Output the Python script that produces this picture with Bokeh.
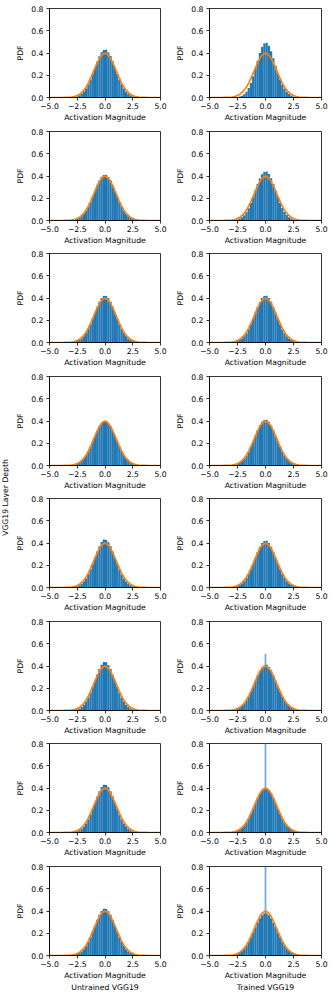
import math
from bokeh.plotting import figure
from bokeh.layouts import row, column
from bokeh.models import Range1d, LinearAxis, FixedTicker, Label, CustomJSTickFormatter
from bokeh.embed import file_html
from bokeh.resources import INLINE

# ---------------- data ----------------
X_TICKS = [-5, -2.5, 0, 2.5, 5]
X_TICK_LABELS = ["\u22125.0", "\u22122.5", "0.0", "2.5", "5.0"]
Y_TICKS = [0, 0.2, 0.4, 0.6, 0.8]
Y_TICK_LABELS = ["0.0", "0.2", "0.4", "0.6", "0.8"]

BIN_WIDTH = 0.2
BIN_CENTERS = [-2.9, -2.7, -2.5, -2.3, -2.1, -1.9, -1.7, -1.5, -1.3, -1.1, -0.9, -0.7, -0.5, -0.3, -0.1,
               0.1, 0.3, 0.5, 0.7, 0.9, 1.1, 1.3, 1.5, 1.7, 1.9, 2.1, 2.3, 2.5, 2.7, 2.9]

untrained_1 = [0.003, 0.006, 0.012, 0.020, 0.034, 0.053, 0.081, 0.117, 0.161, 0.213, 0.268, 0.322, 0.370, 0.407, 0.428,
               0.430, 0.405, 0.372, 0.324, 0.270, 0.212, 0.160, 0.116, 0.080, 0.052, 0.033, 0.020, 0.011, 0.006, 0.003]
untrained_2 = [0.004, 0.008, 0.015, 0.024, 0.039, 0.060, 0.088, 0.124, 0.167, 0.216, 0.267, 0.318, 0.360, 0.393, 0.410,
               0.412, 0.392, 0.361, 0.317, 0.268, 0.215, 0.166, 0.125, 0.088, 0.059, 0.039, 0.024, 0.015, 0.008, 0.004]
untrained_3 = [0.004, 0.007, 0.013, 0.022, 0.036, 0.057, 0.085, 0.121, 0.164, 0.215, 0.268, 0.320, 0.366, 0.400, 0.418,
               0.419, 0.399, 0.367, 0.319, 0.269, 0.214, 0.164, 0.120, 0.085, 0.056, 0.036, 0.022, 0.013, 0.007, 0.004]
untrained_4 = [0.006, 0.010, 0.018, 0.028, 0.044, 0.066, 0.094, 0.130, 0.171, 0.218, 0.266, 0.312, 0.352, 0.381, 0.397,
               0.398, 0.380, 0.353, 0.311, 0.267, 0.217, 0.172, 0.129, 0.095, 0.065, 0.044, 0.028, 0.017, 0.010, 0.006]
untrained_5 = [0.003, 0.006, 0.011, 0.020, 0.033, 0.053, 0.082, 0.118, 0.162, 0.212, 0.269, 0.323, 0.371, 0.408, 0.431,
               0.427, 0.406, 0.370, 0.323, 0.268, 0.213, 0.161, 0.117, 0.081, 0.053, 0.034, 0.020, 0.012, 0.006, 0.003]
untrained_6 = [0.003, 0.006, 0.011, 0.019, 0.032, 0.052, 0.080, 0.116, 0.160, 0.212, 0.269, 0.324, 0.373, 0.412, 0.436,
               0.433, 0.410, 0.372, 0.322, 0.268, 0.211, 0.159, 0.115, 0.080, 0.052, 0.033, 0.019, 0.011, 0.006, 0.003]
untrained_7 = [0.003, 0.006, 0.012, 0.020, 0.033, 0.053, 0.081, 0.117, 0.161, 0.213, 0.268, 0.322, 0.371, 0.409, 0.429,
               0.428, 0.407, 0.371, 0.323, 0.269, 0.213, 0.160, 0.117, 0.081, 0.053, 0.033, 0.020, 0.012, 0.006, 0.003]
untrained_8 = [0.004, 0.007, 0.013, 0.022, 0.036, 0.056, 0.084, 0.120, 0.164, 0.215, 0.268, 0.321, 0.366, 0.401, 0.420,
               0.417, 0.398, 0.366, 0.320, 0.268, 0.215, 0.165, 0.121, 0.085, 0.057, 0.036, 0.022, 0.013, 0.007, 0.004]

trained_1 = [0.001, 0.002, 0.004, 0.008, 0.016, 0.030, 0.052, 0.085, 0.130, 0.190, 0.260, 0.330, 0.400, 0.455, 0.485,
             0.492, 0.465, 0.415, 0.352, 0.285, 0.218, 0.162, 0.115, 0.078, 0.050, 0.031, 0.018, 0.010, 0.005, 0.003]
trained_2 = [0.002, 0.005, 0.009, 0.017, 0.029, 0.048, 0.075, 0.111, 0.157, 0.211, 0.269, 0.327, 0.378, 0.416, 0.437,
             0.440, 0.417, 0.379, 0.328, 0.270, 0.211, 0.157, 0.112, 0.076, 0.049, 0.029, 0.017, 0.009, 0.005, 0.002]
trained_3 = [0.004, 0.007, 0.013, 0.022, 0.036, 0.056, 0.084, 0.120, 0.165, 0.216, 0.269, 0.320, 0.365, 0.400, 0.417,
             0.420, 0.401, 0.367, 0.320, 0.268, 0.214, 0.164, 0.120, 0.084, 0.056, 0.036, 0.022, 0.013, 0.007, 0.004]
trained_4 = [0.004, 0.008, 0.014, 0.024, 0.039, 0.059, 0.088, 0.124, 0.168, 0.217, 0.268, 0.318, 0.361, 0.393, 0.409,
             0.411, 0.393, 0.360, 0.318, 0.267, 0.216, 0.167, 0.124, 0.088, 0.060, 0.039, 0.024, 0.014, 0.008, 0.004]
trained_5 = [0.004, 0.007, 0.013, 0.022, 0.036, 0.056, 0.085, 0.121, 0.165, 0.215, 0.268, 0.320, 0.366, 0.401, 0.419,
             0.421, 0.400, 0.366, 0.319, 0.268, 0.215, 0.165, 0.121, 0.085, 0.056, 0.036, 0.022, 0.013, 0.007, 0.004]
trained_6 = [0.005, 0.009, 0.016, 0.026, 0.041, 0.062, 0.090, 0.126, 0.169, 0.217, 0.267, 0.316, 0.357, 0.389, 0.405,
             0.412, 0.392, 0.360, 0.317, 0.268, 0.217, 0.168, 0.125, 0.090, 0.061, 0.040, 0.025, 0.015, 0.009, 0.005]
trained_7 = [0.005, 0.009, 0.016, 0.027, 0.042, 0.063, 0.091, 0.126, 0.168, 0.214, 0.262, 0.309, 0.349, 0.380, 0.400,
             0.398, 0.378, 0.350, 0.310, 0.263, 0.214, 0.167, 0.126, 0.091, 0.063, 0.042, 0.027, 0.016, 0.009, 0.005]
trained_8 = [0.005, 0.009, 0.016, 0.026, 0.041, 0.061, 0.089, 0.123, 0.163, 0.207, 0.253, 0.296, 0.334, 0.362, 0.377,
             0.377, 0.362, 0.334, 0.296, 0.253, 0.207, 0.163, 0.123, 0.089, 0.061, 0.041, 0.026, 0.016, 0.009, 0.005]

# spike of exact-zero activations (trained layers 6-8), height in density units
SPIKE_WIDTH = 0.16
trained_spikes = [0, 0, 0, 0, 0, 0.51, 1.5, 1.8]

# reference normal curve
NORMAL_X = [-5.0, -4.75, -4.5, -4.25, -4.0, -3.75, -3.5, -3.25, -3.0, -2.75, -2.5, -2.25, -2.0, -1.75, -1.5, -1.25,
            -1.0, -0.75, -0.5, -0.25, 0.0, 0.25, 0.5, 0.75, 1.0, 1.25, 1.5, 1.75, 2.0, 2.25, 2.5, 2.75, 3.0, 3.25,
            3.5, 3.75, 4.0, 4.25, 4.5, 4.75, 5.0]
NORMAL_PDF = [0.0, 0.0, 0.0, 0.0, 0.0001, 0.0004, 0.0009, 0.0020, 0.0044, 0.0091, 0.0175, 0.0317, 0.0540, 0.0863,
              0.1295, 0.1826, 0.2420, 0.3011, 0.3521, 0.3867, 0.3989, 0.3867, 0.3521, 0.3011, 0.2420, 0.1826, 0.1295,
              0.0863, 0.0540, 0.0317, 0.0175, 0.0091, 0.0044, 0.0020, 0.0009, 0.0004, 0.0001, 0.0, 0.0, 0.0, 0.0]

untrained = [untrained_1, untrained_2, untrained_3, untrained_4, untrained_5, untrained_6, untrained_7, untrained_8]
trained = [trained_1, trained_2, trained_3, trained_4, trained_5, trained_6, trained_7, trained_8]

X_LABEL = "Activation Magnitude"
Y_LABEL = "PDF"
COL_TITLES = ["Untrained VGG19", "Trained VGG19"]
ROW_LABEL = "VGG19 Layer Depth"

# ---------------- styling / layout ----------------
FONT = "DejaVu Sans"
FS = "7.7px"
BLUE = "#1f77b4"
ORANGE = "#ff7f0e"
ROW_HEIGHTS = [128, 122, 123, 122, 123, 122, 123, 135]
TOP_BORDERS = [8, 3, 3, 3, 3, 3, 3, 3]
FRAME_H = 89
LABEL_W = 9
TOTAL_H = sum(ROW_HEIGHTS)
# (width, border_left, border_right) per column
COL_GEOM = [(160, 40, 9), (163, 40, 11)]

LOOKUP = "const i = tick_values.indexOf(tick); return i >= 0 ? tick_labels[i] : '';"
fmt_x = CustomJSTickFormatter(args=dict(tick_values=X_TICKS, tick_labels=X_TICK_LABELS), code=LOOKUP)
fmt_y = CustomJSTickFormatter(args=dict(tick_values=Y_TICKS, tick_labels=Y_TICK_LABELS), code=LOOKUP)


def style_axis(ax, standoff, label_standoff):
    ax.major_label_text_font = FONT
    ax.major_label_text_font_size = FS
    ax.major_label_text_color = "black"
    ax.axis_label_text_font = FONT
    ax.axis_label_text_font_size = FS
    ax.axis_label_text_font_style = "normal"
    ax.axis_label_text_color = "black"
    ax.axis_line_color = "black"
    ax.axis_line_width = 0.8
    ax.major_tick_line_color = "black"
    ax.major_tick_line_width = 0.8
    ax.major_tick_out = 3
    ax.major_tick_in = 0
    ax.minor_tick_line_color = None
    ax.major_label_standoff = standoff
    ax.axis_label_standoff = label_standoff


def make_panel(heights, spike, col, r):
    h = ROW_HEIGHTS[r]
    tb = TOP_BORDERS[r]
    w, bl, br = COL_GEOM[col]
    p = figure(width=w, height=h, x_range=Range1d(-5, 5), y_range=Range1d(0, 0.8),
               output_backend="svg", toolbar_location=None,
               min_border_left=bl, min_border_right=br, min_border_top=tb,
               min_border_bottom=h - tb - FRAME_H)
    p.grid.visible = False
    p.outline_line_color = "black"
    p.outline_line_width = 0.8
    p.background_fill_color = "white"
    p.border_fill_color = "white"

    lefts = [c - BIN_WIDTH / 2 for c in BIN_CENTERS]
    rights = [c + BIN_WIDTH / 2 for c in BIN_CENTERS]
    p.quad(left=lefts, right=rights, bottom=0, top=heights, fill_color=BLUE, line_color=None)
    if spike > 0:
        p.quad(left=[-SPIKE_WIDTH / 2], right=[SPIKE_WIDTH / 2], bottom=0, top=[spike],
               fill_color=BLUE, fill_alpha=0.6, line_color=None)
    p.line(NORMAL_X, NORMAL_PDF, line_color=ORANGE, line_width=1.7)

    p.xaxis.ticker = FixedTicker(ticks=X_TICKS)
    p.xaxis.formatter = fmt_x
    p.yaxis.ticker = FixedTicker(ticks=Y_TICKS)
    p.yaxis.formatter = fmt_y
    p.xaxis.axis_label = X_LABEL
    p.yaxis.axis_label = Y_LABEL
    style_axis(p.xaxis[0], 2, 1)
    style_axis(p.yaxis[0], 3, 3)

    if r == len(ROW_HEIGHTS) - 1:
        ax2 = LinearAxis(ticker=FixedTicker(ticks=[]), axis_label=COL_TITLES[col])
        style_axis(ax2, 0, 0)
        ax2.axis_line_color = None
        ax2.major_tick_out = 0
        p.add_layout(ax2, "below")
    return p


rows = []
for r in range(8):
    rows.append(row(make_panel(untrained[r], 0, 0, r), make_panel(trained[r], trained_spikes[r], 1, r)))

lab = figure(width=LABEL_W, height=TOTAL_H, x_range=Range1d(0, 1), y_range=Range1d(0, TOTAL_H),
             output_backend="svg", toolbar_location=None, min_border=0,
             x_axis_location=None, y_axis_location=None)
lab.grid.visible = False
lab.outline_line_color = None
lab.border_fill_color = "white"
lab.add_layout(Label(x=0.5, y=TOTAL_H - 497, text=ROW_LABEL, angle=math.pi / 2,
                     text_align="center", text_baseline="middle",
                     text_font=FONT, text_font_size=FS, text_color="black"))

layout = row(lab, column(*rows))

open("out.html", "w").write(file_html(layout, INLINE))
